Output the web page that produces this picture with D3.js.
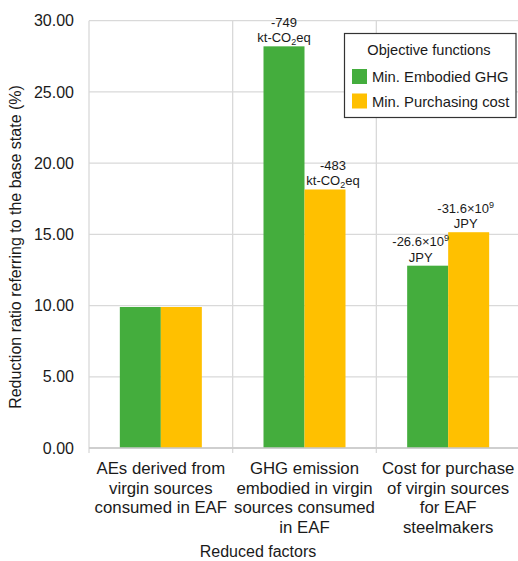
<!DOCTYPE html>
<html><head><meta charset="utf-8">
<script src="https://cdn.jsdelivr.net/npm/d3@7"></script>
<style>body{margin:0;background:#fff;} text{font-family:"Liberation Sans",Arial,sans-serif;fill:#1a1a1a;}</style>
</head><body><svg id="c" width="518" height="561"></svg>
<script>
const categories = [
  ["AEs derived from","virgin sources","consumed in EAF"],
  ["GHG emission","embodied in virgin","sources consumed","in EAF"],
  ["Cost for purchase","of virgin sources","for EAF","steelmakers"]
];
const seriesNames = ["Min. Embodied GHG","Min. Purchasing cost"];
const ghgValues = [9.9, 28.2, 12.8];
const costValues = [9.9, 18.15, 15.15];
const yTicks = [0,5,10,15,20,25,30];
const ghgLabels = [null, [["-749"],["kt-CO","2","eq"]], [["-26.6×10","9"],["JPY"]]];
const costLabels = [null, [["-483"],["kt-CO","2","eq"]], [["-31.6×10","9"],["JPY"]]];
const colors = ["#44ad3d","#ffc000"];

const svg = d3.select("#c");
const L=89, R=520, T=20.7, B=448;
const x0 = d3.scaleBand().domain(d3.range(categories.length)).range([L,R]).padding(0);
const x1 = d3.scaleBand().domain([0,1]).range([0,x0.bandwidth()]).paddingInner(0).paddingOuter(0.752);
const y = d3.scaleLinear().domain([0,30]).range([B,T]);

// gridlines
svg.append("g").selectAll("line").data(yTicks).join("line")
  .attr("x1",L).attr("x2",R).attr("y1",d=>y(d)).attr("y2",d=>y(d))
  .attr("stroke","#d9d9d9").attr("stroke-width",1.3);
svg.append("g").selectAll("line").data(d3.range(categories.length+1)).join("line")
  .attr("x1",d=>L+d*x0.step()).attr("x2",d=>L+d*x0.step()).attr("y1",T).attr("y2",B+5)
  .attr("stroke","#d9d9d9").attr("stroke-width",1.3);

// y axis
const yAxis = svg.append("g").attr("transform",`translate(${L},0)`)
  .call(d3.axisLeft(y).tickValues(yTicks).tickFormat(d3.format(".2f")).tickSize(0).tickPadding(15));
yAxis.select(".domain").remove();
yAxis.selectAll("text").attr("font-size",16).attr("fill","#1a1a1a").style("font-family","Liberation Sans, Arial, sans-serif");

// bars
const data = categories.map((c,i)=>[ghgValues[i],costValues[i]]);
const g = svg.append("g");
data.forEach((vals,i)=>{
  g.selectAll(null).data(vals).join("rect")
    .attr("x",(d,j)=>x0(i)+x1(j)).attr("width",x1.bandwidth())
    .attr("y",d=>y(d)).attr("height",d=>y(0)-y(d))
    .attr("fill",(d,j)=>colors[j]);
});

// x axis baseline
svg.append("line").attr("x1",L).attr("x2",R).attr("y1",B).attr("y2",B).attr("stroke","#c8c8c8").attr("stroke-width",1.5);

// category labels
categories.forEach((lines,i)=>{
  const t = svg.append("text").attr("text-anchor","middle").attr("font-size",16.8)
    .attr("x",x0(i)+x0.bandwidth()/2).attr("y",474);
  lines.forEach((l,k)=>t.append("tspan").attr("x",x0(i)+x0.bandwidth()/2).attr("dy",k?19.6:0).text(l));
});
svg.append("text").attr("text-anchor","middle").attr("font-size",16).attr("x",258).attr("y",557).text("Reduced factors");
svg.append("text").attr("text-anchor","middle").attr("font-size",16)
  .attr("transform","translate(21,247) rotate(-90)").text("Reduction ratio referring to the base state (%)");

// value labels
const dxs = [[0,0],[0,8],[-7,-3]];
function drawLabel(lbl,i,j,v){
  if(!lbl) return;
  const cx = x0(i)+x1(j)+x1.bandwidth()/2 + dxs[i][j];
  const top = y(v);
  lbl.forEach((parts,k)=>{
    const base = top - 4 - (lbl.length-1-k)*15.5;
    const t = svg.append("text").attr("text-anchor","middle").attr("font-size",13).attr("x",cx).attr("y",base);
    t.append("tspan").text(parts[0]);
    if(parts.length>1){
      const sup = parts[0].indexOf("×")>=0;
      t.append("tspan").attr("font-size",9).attr("dy",sup?-5:3).text(parts[1]);
      if(parts.length>2) t.append("tspan").attr("dy",sup?5:-3).text(parts[2]);
    }
  });
}
ghgLabels.forEach((l,i)=>drawLabel(l,i,0,ghgValues[i]));
costLabels.forEach((l,i)=>drawLabel(l,i,1,costValues[i]));

// legend
const lg = svg.append("g");
lg.append("rect").attr("x",344.5).attr("y",33.5).attr("width",171.5).attr("height",84).attr("fill","#fff").attr("stroke","#333").attr("stroke-width",1.2);
lg.append("text").attr("x",429).attr("y",55).attr("text-anchor","middle").attr("font-size",14.6).text("Objective functions");
seriesNames.forEach((s,j)=>{
  lg.append("rect").attr("x",352).attr("y",69+j*24.5).attr("width",15).attr("height",15).attr("fill",colors[j]);
  lg.append("text").attr("x",372).attr("y",82+j*24.5).attr("font-size",14.8).text(s);
});
</script></body></html>
